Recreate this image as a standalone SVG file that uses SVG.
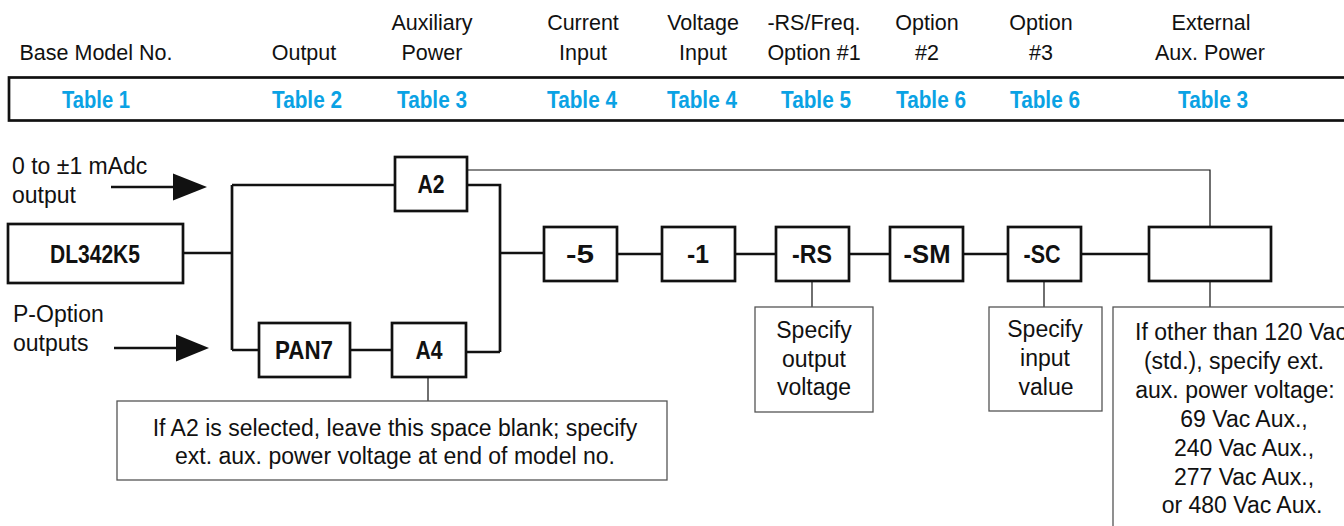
<svg xmlns="http://www.w3.org/2000/svg" width="1344" height="526" viewBox="0 0 1344 526">
<style>
.hd{font-family:"Liberation Sans",Arial,sans-serif;font-size:21.5px;fill:#111;text-anchor:middle}
.tb{font-family:"Liberation Sans",Arial,sans-serif;font-size:24px;font-weight:bold;fill:#0aa2e4;text-anchor:middle}
.bx{fill:#fff;stroke:#111;stroke-width:2.7}
.lb{font-family:"Liberation Sans",Arial,sans-serif;font-size:25px;font-weight:bold;fill:#111;text-anchor:middle}
.co{fill:#fff;stroke:#555;stroke-width:1.3}
.ct{font-family:"Liberation Sans",Arial,sans-serif;font-size:23px;fill:#111;text-anchor:middle}
.sd{font-family:"Liberation Sans",Arial,sans-serif;font-size:23px;fill:#111}
.thick{fill:none;stroke:#111;stroke-width:2.7}
.thin{fill:none;stroke:#111;stroke-width:1.2}
</style>
<g id="header">
<text class="hd" x="96" y="60">Base Model No.</text>
<text class="hd" x="304" y="60">Output</text>
<text class="hd" x="432" y="30">Auxiliary</text><text class="hd" x="432" y="60">Power</text>
<text class="hd" x="583" y="30">Current</text><text class="hd" x="583" y="60">Input</text>
<text class="hd" x="703" y="30">Voltage</text><text class="hd" x="703" y="60">Input</text>
<text class="hd" x="814" y="30">-RS/Freq.</text><text class="hd" x="814" y="60">Option #1</text>
<text class="hd" x="927" y="30">Option</text><text class="hd" x="927" y="60">#2</text>
<text class="hd" x="1041" y="30">Option</text><text class="hd" x="1041" y="60">#3</text>
<text class="hd" x="1211" y="30">External</text><text class="hd" x="1210" y="60">Aux. Power</text>
<rect x="9" y="77.5" width="1400" height="43" fill="none" stroke="#111" stroke-width="2.7"/>
<text class="tb" x="96" y="108" textLength="68" lengthAdjust="spacingAndGlyphs">Table 1</text>
<text class="tb" x="307" y="108" textLength="70" lengthAdjust="spacingAndGlyphs">Table 2</text>
<text class="tb" x="432" y="108" textLength="70" lengthAdjust="spacingAndGlyphs">Table 3</text>
<text class="tb" x="582" y="108" textLength="70" lengthAdjust="spacingAndGlyphs">Table 4</text>
<text class="tb" x="702" y="108" textLength="70" lengthAdjust="spacingAndGlyphs">Table 4</text>
<text class="tb" x="816" y="108" textLength="70" lengthAdjust="spacingAndGlyphs">Table 5</text>
<text class="tb" x="931" y="108" textLength="70" lengthAdjust="spacingAndGlyphs">Table 6</text>
<text class="tb" x="1045" y="108" textLength="70" lengthAdjust="spacingAndGlyphs">Table 6</text>
<text class="tb" x="1213" y="108" textLength="70" lengthAdjust="spacingAndGlyphs">Table 3</text>
</g>
<g id="connectors">
<path class="thick" d="M183 253H232M232 185V350M232 185H395M467 185H500V352M232 350H259M350 350H392M466 352H500M500 253H544M617 254H662M735 254H776M849 254H890M963 254H1008M1081 254H1149"/>
<path class="thin" d="M467 170H1210V227M812 281V307M1044 281V307M1210 281V307M428 377V401"/>
<path class="thick" d="M111 187H175M114 348H178"/>
<polygon points="173,173.5 207,187 173,200.5" fill="#111"/>
<polygon points="176,334.5 209,348 176,361.5" fill="#111"/>
</g>
<g id="labels-left">
<text class="sd" x="12" y="174">0 to ±1 mAdc</text>
<text class="sd" x="12" y="203">output</text>
<text class="sd" x="13" y="322">P-Option</text>
<text class="sd" x="13" y="351">outputs</text>
</g>
<g id="n-dl342k5"><rect class="bx" x="8" y="224" width="175" height="59"/><text class="lb" x="95" y="263" textLength="90" lengthAdjust="spacingAndGlyphs">DL342K5</text></g>
<g id="n-a2"><rect class="bx" x="395" y="157" width="72" height="54"/><text class="lb" x="431" y="193" textLength="27" lengthAdjust="spacingAndGlyphs">A2</text></g>
<g id="n-pan7"><rect class="bx" x="259" y="323" width="91" height="54"/><text class="lb" x="304" y="359" textLength="58" lengthAdjust="spacingAndGlyphs">PAN7</text></g>
<g id="n-a4"><rect class="bx" x="392" y="323" width="74" height="54"/><text class="lb" x="429" y="359" textLength="27" lengthAdjust="spacingAndGlyphs">A4</text></g>
<g id="n-5"><rect class="bx" x="544" y="227" width="73" height="54"/><text class="lb" x="580" y="263" textLength="28" lengthAdjust="spacingAndGlyphs">-5</text></g>
<g id="n-1"><rect class="bx" x="662" y="227" width="73" height="54"/><text class="lb" x="698" y="263" textLength="22" lengthAdjust="spacingAndGlyphs">-1</text></g>
<g id="n-rs"><rect class="bx" x="776" y="227" width="73" height="54"/><text class="lb" x="812" y="263" textLength="40" lengthAdjust="spacingAndGlyphs">-RS</text></g>
<g id="n-sm"><rect class="bx" x="890" y="227" width="73" height="54"/><text class="lb" x="927" y="263" textLength="47" lengthAdjust="spacingAndGlyphs">-SM</text></g>
<g id="n-sc"><rect class="bx" x="1008" y="227" width="73" height="54"/><text class="lb" x="1042" y="263" textLength="37" lengthAdjust="spacingAndGlyphs">-SC</text></g>
<g id="n-ext"><rect class="bx" x="1149" y="227" width="122" height="54"/></g>
<g id="c-a4">
<rect class="co" x="117" y="401" width="550" height="79"/>
<text class="ct" x="395" y="436">If A2 is selected, leave this space blank; specify</text>
<text class="ct" x="395" y="464">ext. aux. power voltage at end of model no.</text>
</g>
<g id="c-rs">
<rect class="co" x="755" y="307" width="118" height="105"/>
<text class="ct" x="814" y="338">Specify</text><text class="ct" x="814" y="367">output</text><text class="ct" x="814" y="395">voltage</text>
</g>
<g id="c-sc">
<rect class="co" x="989" y="307" width="113" height="104"/>
<text class="ct" x="1045" y="337">Specify</text><text class="ct" x="1045" y="366">input</text><text class="ct" x="1046" y="395">value</text>
</g>
<g id="c-ext">
<rect class="co" x="1113" y="307" width="300" height="300"/>
<text class="ct" x="1241" y="340">If other than 120 Vac</text>
<text class="ct" x="1234" y="369">(std.), specify ext.</text>
<text class="ct" x="1235" y="398">aux. power voltage:</text>
<text class="ct" x="1244" y="427">69 Vac Aux.,</text>
<text class="ct" x="1244" y="456">240 Vac Aux.,</text>
<text class="ct" x="1244" y="485">277 Vac Aux.,</text>
<text class="ct" x="1242" y="513">or 480 Vac Aux.</text>
</g>
</svg>
